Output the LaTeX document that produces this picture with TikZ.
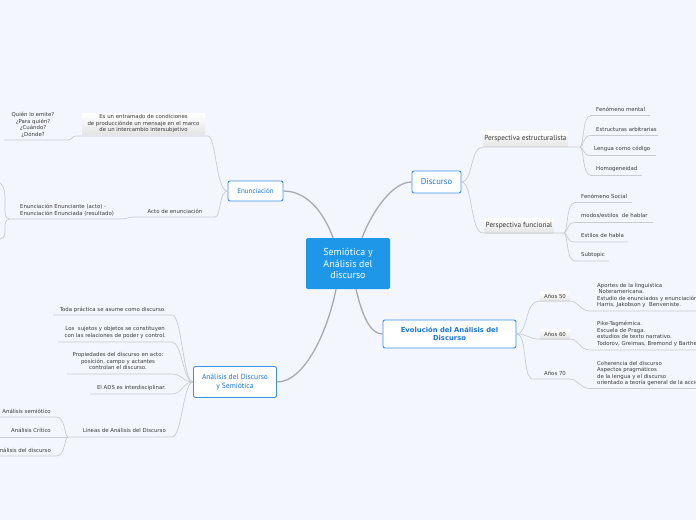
\documentclass[tikz,border=0pt]{standalone}
\usepackage{fontspec}
\setmainfont{DejaVu Sans}
\newfontfamily\pts{PT Sans}
\definecolor{bgc}{HTML}{F3F6FD}
\definecolor{linkc}{HTML}{C9CBD3}
\definecolor{mainc}{HTML}{A9AAB0}
\definecolor{topicc}{HTML}{3C8FE6}
\definecolor{topictxt}{HTML}{1A73D9}
\definecolor{rootc}{HTML}{1F97E8}
\definecolor{txtc}{HTML}{3A3A3A}
\definecolor{graybot}{HTML}{E4E4E6}
\begin{document}
\begin{tikzpicture}[x=1pt,y=-1pt,
  txt/.style={inner sep=0pt, text=txtc, font=\fontsize{5.4}{6.5}\selectfont},
  link/.style={draw=linkc, line width=0.7pt},
  mainlink/.style={draw=mainc, line width=1.3pt},
  topic/.style={draw=topicc, line width=0.9pt, fill=white, rounded corners=2pt, text=topictxt, align=center, inner sep=1pt},
  rootbox/.style={fill=rootc, text=white, rounded corners=1.5pt, align=center, minimum width=84pt, minimum height=51pt, inner sep=1pt, font=\pts\fontsize{10}{11.7}\selectfont},
  graybox/.style={top color=white, bottom color=graybot, inner sep=1pt},
  persp/.style={graybox, text=txtc, font=\pts\fontsize{7.3}{8}\selectfont, minimum height=15pt}
]
\clip (0,0) rectangle (696,520);
\fill[bgc] (0,0) rectangle (696,520);

% ---------- main nodes ----------
\node[rootbox] (root) at (348,263.5) {Semiótica y\\Análisis del\\discurso};
\node[topic, minimum width=55pt, minimum height=20pt, font=\pts\fontsize{7}{8}\selectfont] (enun) at (255.5,191) {Enunciación};
\node[topic, minimum width=49pt, minimum height=22pt, font=\pts\fontsize{8.6}{9}\selectfont] (disc) at (436.5,182) {Discurso};
\node[topic, minimum width=133pt, minimum height=28pt, font=\bfseries\fontsize{6.8}{8.2}\selectfont] (evol) at (449.5,334) {Evolución del Análisis del\\Discurso};
\node[topic, minimum width=83pt, minimum height=31pt, font=\pts\fontsize{7.5}{9}\selectfont] (ads) at (235,382) {Análisis del Discurso\\y Semiótica};

% ---------- links from root ----------
\draw[mainlink] (enun.east) .. controls (310,191) and (326,218) .. ([xshift=-15pt]root.north);
\draw[mainlink] ([xshift=14pt]root.north) .. controls (372,212) and (392,182) .. (disc.west);
\draw[mainlink] ([xshift=-12pt]root.south) .. controls (328,330) and (305,382) .. (ads.east);
\draw[mainlink] ([xshift=8pt]root.south) .. controls (362,315) and (370,334) .. (evol.west);

% ---------- Enunciación ----------
\node[graybox, txt, align=center, minimum width=123pt, minimum height=21pt] (entr) at (143.5,124) {Es un entramado de condiciones\\de producciónde un mensaje en el marco\\de un intercambio intersubjetivo};
\node[txt, align=center] (quien) at (33,124.8) {Quién lo emite?\\¿Para quién?\\¿Cuándo?\\¿Dónde?};
\coordinate (entrR) at (208,136); \coordinate (entrL) at (76,136);
\coordinate (quR) at (68,140); \coordinate (quL) at (4,140);
\draw[link] (enun.west) .. controls (216,191) and (216,136) .. (entrR) -- (entrL) .. controls (72,136) and (72,140) .. (quR) -- (quL);

\node[txt] (acto) at (175,211) {Acto de enunciación};
\node[txt, align=left] (enac) at (67,210) {Enunciación Enunciante (acto) -\\Enunciación Enunciada (resultado)};
\coordinate (actoR) at (215,217); \coordinate (actoL) at (134,217);
\coordinate (enacR) at (121,219); \coordinate (enacL) at (10,219);
\draw[link] (enun.west) .. controls (219,191) and (221,217) .. (actoR) -- (actoL) .. controls (128,217) and (127,219) .. (enacR) -- (enacL);
\coordinate (offA) at (-4,181); \coordinate (offB) at (-4,240);
\draw[link] (enacL) .. controls (4,219) and (5,212) .. (5,200) .. controls (5,188) and (3,183) .. (offA);
\draw[link] (enacL) .. controls (4,219) and (5,226) .. (5,232) .. controls (5,237) and (3,239) .. (offB);

% ---------- Discurso ----------
\node[persp, minimum width=84pt] (pe) at (525.5,139) {Perspectiva estructuralista};
\coordinate (peL) at (483,147); \coordinate (peR) at (580,147);
\draw[link] (disc.east) .. controls (473,182) and (470,147) .. (peL) -- (peR);
\node[txt, anchor=west] (fm) at (596,109) {Fenómeno mental};
\node[txt, anchor=west] (ea) at (596,129) {Estructuras arbitrarias};
\node[txt, anchor=west] (lc) at (594,149) {Lengua como código};
\node[txt, anchor=west] (ho) at (596,169) {Homogeneidad};
\coordinate (fmL) at (591,115.5); \coordinate (fmR) at (650,115.5);
\coordinate (eaL) at (591,135.5); \coordinate (eaR) at (658,135.5);
\coordinate (lcL) at (591,155.5); \coordinate (lcR) at (656,155.5);
\coordinate (hoL) at (591,175.5); \coordinate (hoR) at (642,175.5);
\draw[link] (peR) .. controls (584,147) and (582,115.5) .. (fmL) -- (fmR);
\draw[link] (peR) .. controls (584,147) and (582,135.5) .. (eaL) -- (eaR);
\draw[link] (peR) .. controls (584,147) and (582,155.5) .. (lcL) -- (lcR);
\draw[link] (peR) .. controls (584,147) and (582,175.5) .. (hoL) -- (hoR);

\node[persp, minimum width=69pt] (pf) at (519,225.5) {Perspectiva funcional};
\coordinate (pfL) at (483,233); \coordinate (pfR) at (564,233);
\draw[link] (disc.east) .. controls (473,182) and (470,233) .. (pfL) -- (pfR);
\node[txt, anchor=west] (fs) at (581,196) {Fenómeno Social};
\node[txt, anchor=west] (me) at (581,216) {modos/estilos~ de hablar};
\node[txt, anchor=west] (eh) at (581,235) {Estilos de habla};
\node[txt, anchor=west] (st) at (581,255) {Subtopic};
\coordinate (fsL) at (575,202.5); \coordinate (fsR) at (632,202.5);
\coordinate (meL) at (575,222.5); \coordinate (meR) at (653,222.5);
\coordinate (ehL) at (575,242); \coordinate (ehR) at (628,242);
\coordinate (stL) at (575,261); \coordinate (stR) at (609,261);
\draw[link] (pfR) .. controls (568,233) and (566,202.5) .. (fsL) -- (fsR);
\draw[link] (pfR) .. controls (568,233) and (566,222.5) .. (meL) -- (meR);
\draw[link] (pfR) .. controls (568,233) and (566,242) .. (ehL) -- (ehR);
\draw[link] (pfR) .. controls (568,233) and (566,261) .. (stL) -- (stR);

% ---------- Evolución ----------
\node[graybox, txt, minimum width=30pt, minimum height=10pt] (a50) at (555,296.5) {Años 50};
\node[graybox, txt, minimum width=30pt, minimum height=10pt] (a60) at (555,334) {Años 60};
\node[txt] (a70) at (555,373.5) {Años 70};
\coordinate (a50L) at (539,301); \coordinate (a50R) at (570,301);
\coordinate (a60L) at (539,339); \coordinate (a60R) at (570,339);
\coordinate (a70L) at (533,379); \coordinate (a70R) at (570,379);
\coordinate (b50L) at (590,311); \coordinate (b50R) at (700,311);
\coordinate (b60L) at (590,350); \coordinate (b60R) at (700,350);
\coordinate (b70L) at (590,388.5); \coordinate (b70R) at (700,388.5);
\draw[link] (evol.east) .. controls (528,334) and (525,301) .. (a50L) -- (a50R) .. controls (578,301) and (580,311) .. (b50L) -- (b50R);
\draw[link] (evol.east) .. controls (528,334) and (528,339) .. (a60L) -- (a60R) .. controls (578,339) and (580,350) .. (b60L) -- (b60R);
\draw[link] (evol.east) .. controls (528,334) and (522,379) .. (a70L) -- (a70R) .. controls (578,379) and (580,388.5) .. (b70L) -- (b70R);
\node[txt, anchor=west, align=left] (b50) at (597,295.5) {Aportes de la linguistica\\\hspace*{1.5pt}Noteramericana.\\Estudio de enunciados y enunciación\\Harris, Jakobson y~ Benveniste.};
\node[txt, anchor=west, align=left] (b60) at (597,334) {Pike-Tagmémica.\\Escuela de Praga.\\estudios de texto narrativo.\\Todorov, Greimas, Bremond y Barthes};
\node[txt, anchor=west, align=left] (b70) at (597,373.5) {Coherencia del discurso\\Aspectos pragmáticos\\de la lengua y el discurso\\orientado a teoría general de la acción};

% ---------- Análisis del Discurso y Semiótica ----------
\node[txt, anchor=east] (t1) at (166,310) {Toda práctica se asume como discurso.};
\node[txt, anchor=east, align=center] (t2) at (166,332.5) {Los~ sujetos y objetos se constituyen\\con las relaciones de poder y control.};
\node[txt, align=center] (t3) at (118,361) {Propiedades del discurso en acto:\\posición, campo y actantes\\controlan el discurso.};
\node[txt, anchor=east] (t4) at (166,388) {El ADS es interdisciplinar.};
\node[txt, anchor=east] (t5) at (166,430) {Líneas de Análisis del Discurso};
\coordinate (t1R) at (172,315); \coordinate (t1L) at (53,315);
\coordinate (t2R) at (172,342); \coordinate (t2L) at (58,342);
\coordinate (t3R) at (172,374); \coordinate (t3L) at (67,374);
\coordinate (t4R) at (172,394); \coordinate (t4L) at (90,394);
\coordinate (t5R) at (172,437); \coordinate (t5L) at (68,437);
\draw[link] (ads.west) .. controls (183,382) and (182,315) .. (t1R) -- (t1L);
\draw[link] (ads.west) .. controls (183,382) and (182,342) .. (t2R) -- (t2L);
\draw[link] (ads.west) .. controls (183,382) and (182,374) .. (t3R) -- (t3L);
\draw[link] (ads.west) .. controls (183,382) and (182,394) .. (t4R) -- (t4L);
\draw[link] (ads.west) .. controls (183,382) and (182,437) .. (t5R) -- (t5L);
\node[txt, anchor=east] (as) at (51,411) {Análisis semiótico};
\node[txt, anchor=east] (ac) at (51,430) {Análisis Crítico};
\node[txt, anchor=east] (ad) at (51,450) {Análisis del discurso};
\coordinate (asR) at (56,417); \coordinate (asL) at (-2,417);
\coordinate (acL) at (-2,437);
\coordinate (adR) at (56,456); \coordinate (adL) at (-2,456);
\draw[link] (t5L) .. controls (64,437) and (66,417) .. (asR) -- (asL);
\draw[link] (t5L) -- (acL);
\draw[link] (t5L) .. controls (64,437) and (66,456) .. (adR) -- (adL);
\end{tikzpicture}
\end{document}
